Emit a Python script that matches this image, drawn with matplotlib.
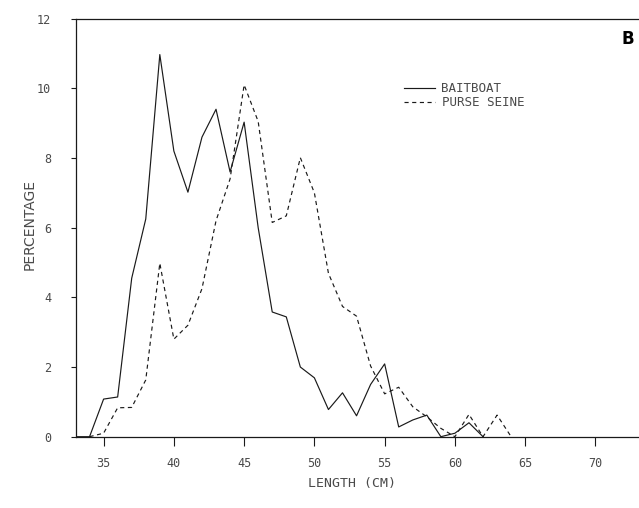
"""
Length frequency of skipjack catches, baitboat vs purse seine (panel B)
"""

import matplotlib
matplotlib.use('Agg')
import matplotlib.pyplot as plt

# Length classes (cm) and percentage of catch
bb_length = [33, 34, 35, 36, 37, 38, 39, 40, 41, 42, 43, 44, 45, 46, 47,
             48, 49, 50, 51, 52, 53, 54, 55, 56, 57, 58, 59, 60, 61, 62]
bb_pct = [0.0, 0.0, 1.08, 1.14, 4.55, 6.25, 10.97, 8.2, 7.02, 8.6, 9.4, 7.6,
          9.03, 6.0, 3.58, 3.44, 2.0, 1.69, 0.78, 1.26, 0.6, 1.5, 2.09, 0.28,
          0.48, 0.62, 0.0, 0.1, 0.4, 0.0]

ps_length = [34, 35, 36, 37, 38, 39, 40, 41, 42, 43, 44, 45, 46, 47, 48, 49,
             50, 51, 52, 53, 54, 55, 56, 57, 58, 59, 60, 61, 62, 63, 64]
ps_pct = [0.0, 0.1, 0.83, 0.84, 1.63, 4.98, 2.8, 3.2, 4.25, 6.2, 7.4, 10.1,
          9.05, 6.15, 6.34, 8.01, 7.0, 4.69, 3.74, 3.46, 2.03, 1.23, 1.42,
          0.86, 0.57, 0.24, 0.0, 0.64, 0.0, 0.62, 0.0]

x_ticks = [35, 40, 45, 50, 55, 60, 65, 70]
y_ticks = [0, 2, 4, 6, 8, 10, 12]

INK = '#1a1a1a'
TXT = '#4a4a4a'
MONO = 'DejaVu Sans Mono'

fig = plt.figure(figsize=(6.39, 5.08), dpi=100, facecolor='white')
ax = fig.add_axes([75.5 / 639, 1 - 436.7 / 508, 1 - 75.5 / 639, (436.7 - 18.7) / 508])

ax.plot(bb_length, bb_pct, color=INK, linewidth=0.85, label='BAITBOAT')
ax.plot(ps_length, ps_pct, color=INK, linewidth=0.85, linestyle=(0, (3.5, 3)),
        label='PURSE SEINE')

ax.set_xlim(33.0, 73.1)
ax.set_ylim(0, 12)
ax.set_xticks(x_ticks)
ax.set_yticks(y_ticks)

ax.tick_params(axis='x', direction='out', length=6.5, width=0.8, pad=8,
               labelsize=8.5, labelcolor=TXT, color=INK)
ax.tick_params(axis='y', direction='out', length=3.6, width=0.8, pad=14,
               labelsize=8.5, labelcolor=TXT, color=INK)
for lab in ax.get_xticklabels() + ax.get_yticklabels():
    lab.set_family(MONO)

ax.spines['right'].set_visible(False)
for side in ['left', 'top', 'bottom']:
    ax.spines[side].set_color(INK)
    ax.spines[side].set_linewidth(0.9)

fig.text(30 / 639, 1 - 224 / 508, 'PERCENTAGE', rotation=90, ha='center',
         va='center', fontsize=10, color=TXT, family='DejaVu Sans')
fig.text(352 / 639, 1 - 484 / 508, 'LENGTH (CM)', ha='center', va='center',
         fontsize=9.5, color=TXT, family=MONO)
fig.text(628 / 639, 1 - 39 / 508, 'B', ha='center', va='center',
         fontsize=12, fontweight='bold', color='black', family='DejaVu Sans')

ax.legend(loc='upper left', bbox_to_anchor=((399 - 75.5) / (639 - 75.5),
                                            (436.7 - 77) / (436.7 - 18.7)),
          frameon=False, handlelength=2.5, handletextpad=0.5,
          labelspacing=0.1, borderaxespad=0,
          prop={'family': MONO, 'size': 9}, labelcolor=TXT)

fig.savefig('out.png', dpi=100, facecolor='white')
